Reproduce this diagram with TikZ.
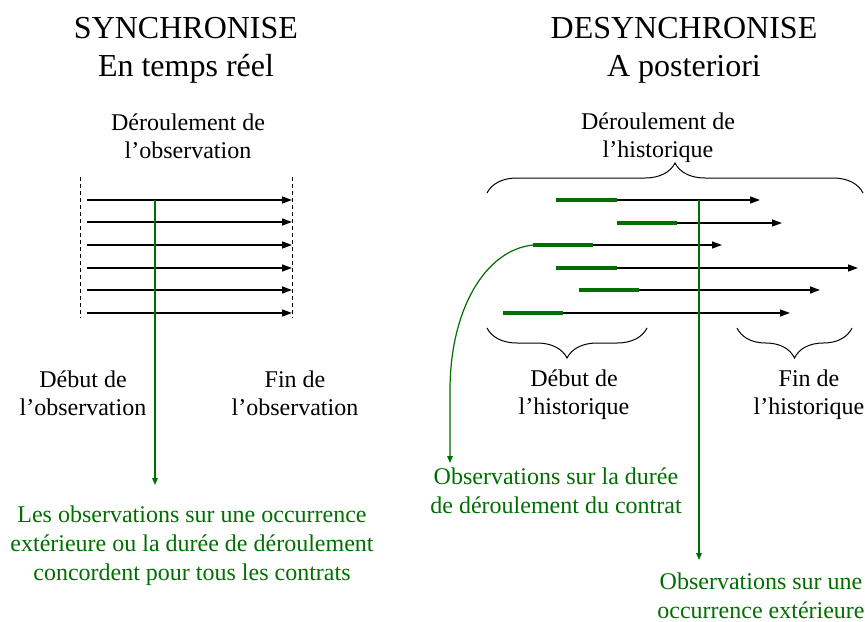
\documentclass[tikz,border=0pt]{standalone}
\usepackage{fontspec}
\setmainfont{Liberation Serif}
\usetikzlibrary{arrows.meta,decorations.pathreplacing}
\definecolor{obsgreen}{RGB}{0,110,0}

\begin{document}
\begin{tikzpicture}[x=0.5pt,y=-0.5pt,
    titre/.style={align=center,font=\fontsize{16}{19}\selectfont},
    legende/.style={align=center,font=\fontsize{12}{13.8}\selectfont},
    legendeverte/.style={align=center,text=obsgreen,font=\fontsize{12}{14.4}\selectfont},
    contrat/.style={draw=black,line width=0.7pt,-{Triangle[length=5pt,width=3.5pt]}},
    duree/.style={draw=obsgreen,line width=1.6pt},
    mesure/.style={draw=obsgreen,line width=0.6pt,-{Triangle[length=3.5pt,width=2.8pt]}},
    borne/.style={draw=black,line width=0.5pt,dash pattern=on 2pt off 1.5pt},
    accolade/.style={draw=black,line width=0.5pt,decorate,decoration={brace,amplitude=15pt}}]

    \useasboundingbox (0,0) rectangle (865,621);

    % titres
    \node[titre] (sync)   at (186,50) {SYNCHRONISE\\En temps réel};
    \node[titre] (desync) at (684,50) {DESYNCHRONISE\\A posteriori};

    \node[legende] (deroulobs) at (188,136) {Déroulement de\\l’observation};
    \node[legende] (deroulhist) at (658,138) {Déroulement de\\l’historique};

    % synchronise
    \coordinate (debh) at (80,177);
    \coordinate (debb) at (80,318);
    \coordinate (finh) at (292,177);
    \coordinate (finb) at (292,318);
    \draw[borne] (debh) -- (debb);
    \draw[borne] (finh) -- (finb);

    \coordinate (g1) at (87,200);  \coordinate (d1) at (292,200);
    \coordinate (g2) at (87,222);  \coordinate (d2) at (292,222);
    \coordinate (g3) at (87,245);  \coordinate (d3) at (292,245);
    \coordinate (g4) at (87,268);  \coordinate (d4) at (292,268);
    \coordinate (g5) at (87,290);  \coordinate (d5) at (292,290);
    \coordinate (g6) at (87,313);  \coordinate (d6) at (292,313);

    \draw[contrat] (g1) -- (d1);
    \draw[contrat] (g2) -- (d2);
    \draw[contrat] (g3) -- (d3);
    \draw[contrat] (g4) -- (d4);
    \draw[contrat] (g5) -- (d5);
    \draw[contrat] (g6) -- (d6);

    \coordinate (occh) at (155,200);
    \coordinate (occb) at (155,485);
    \draw[mesure] (occh) -- (occb);

    \node[legende] (debutobs) at (83,393) {Début de\\l’observation};
    \node[legende] (finobs) at (295,393) {Fin de\\l’observation};

    \node[legendeverte] (concorde) at (192,546) {Les observations sur une occurrence\\extérieure ou la durée de déroulement\\concordent pour tous les contrats};

    % desynchronise
    \coordinate (s1) at (556,200); \coordinate (m1) at (617,200); \coordinate (e1) at (760,200);
    \coordinate (s2) at (617,223); \coordinate (m2) at (677,223); \coordinate (e2) at (782,223);
    \coordinate (s3) at (533,245); \coordinate (m3) at (593,245); \coordinate (e3) at (722,245);
    \coordinate (s4) at (556,268); \coordinate (m4) at (617,268); \coordinate (e4) at (858,268);
    \coordinate (s5) at (579,290); \coordinate (m5) at (639,290); \coordinate (e5) at (820,290);
    \coordinate (s6) at (503,313); \coordinate (m6) at (563,313); \coordinate (e6) at (790,313);

    \draw[contrat] (s1) -- (e1);
    \draw[contrat] (s2) -- (e2);
    \draw[contrat] (s3) -- (e3);
    \draw[contrat] (s4) -- (e4);
    \draw[contrat] (s5) -- (e5);
    \draw[contrat] (s6) -- (e6);

    \draw[duree] (s1) -- (m1);
    \draw[duree] (s2) -- (m2);
    \draw[duree] (s3) -- (m3);
    \draw[duree] (s4) -- (m4);
    \draw[duree] (s5) -- (m5);
    \draw[duree] (s6) -- (m6);

    % accolades
    \coordinate (hg) at (487,193);
    \coordinate (hd) at (863,193);
    \draw[accolade] (hg) -- (hd);
    \coordinate (dg) at (487,328);
    \coordinate (dd) at (647,328);
    \draw[accolade] (dd) -- (dg);
    \coordinate (fg) at (737,328);
    \coordinate (fd) at (852,328);
    \draw[accolade] (fd) -- (fg);

    \node[legende] (debuthist) at (574,395) {Début de\\l’historique};
    \node[legende] (finhist) at (809,395) {Fin de\\l’historique};

    \coordinate (dureeb) at (450,463);
    \draw[mesure] (s3) .. controls (485,250) and (450,310) .. (450,390) -- (dureeb);

    \coordinate (exth) at (699,200);
    \coordinate (extb) at (699,560);
    \draw[mesure] (exth) -- (extb);

    \node[legendeverte] (dureecontrat) at (556,491) {Observations sur la durée\\de déroulement du contrat};
    \node[legendeverte] (occext) at (761,596) {Observations sur une\\occurrence extérieure};

\end{tikzpicture}
\end{document}
